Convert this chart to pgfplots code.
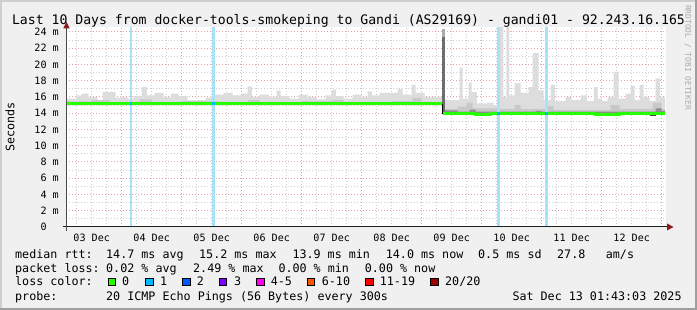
\documentclass[border=0pt]{standalone}
\usepackage{pgfplots}
\pgfplotsset{compat=1.18}
\usepackage{pgfplotstable}
\usepgfplotslibrary{fillbetween}
\usepackage{fontspec}
\setmainfont{DejaVu Sans Mono}
\definecolor{bgc}{HTML}{F0F0F0}
\definecolor{shadea}{HTML}{CFCFCF}
\definecolor{shadeb}{HTML}{9E9E9E}
\definecolor{mgridc}{HTML}{E8A2A2}
\definecolor{gridc}{HTML}{CDCDCD}
\definecolor{axisc}{HTML}{202020}
\definecolor{arrowc}{HTML}{8B1A1A}
\definecolor{smokeA}{HTML}{DDDDDD}
\definecolor{smokeB}{HTML}{C8C8C8}
\definecolor{smokeC}{HTML}{8E8E8E}
\definecolor{spikeD}{HTML}{6E6E6E}
\definecolor{spikeL}{HTML}{ABABAB}
\definecolor{lossbar}{HTML}{A8E2F8}
\definecolor{lc0}{HTML}{26FF00}
\definecolor{lc1}{HTML}{00B8FF}
\definecolor{lc2}{HTML}{0059FF}
\definecolor{lc3}{HTML}{7E00FF}
\definecolor{lc4}{HTML}{FF00EA}
\definecolor{lc5}{HTML}{FF5500}
\definecolor{lc6}{HTML}{FF0000}
\definecolor{lc7}{HTML}{A10000}
\definecolor{wmc}{HTML}{ABABAB}
\pagecolor{bgc}
\newcommand\titlefont{\fontsize{13.15}{15}\selectfont}
\newcommand\legfont{\fontsize{11.7}{14}\selectfont}
\newcommand\ticfont{\fontsize{10.1}{12}\selectfont}
\newcommand\wmfont{\fontsize{7.9}{9}\selectfont}

% days since 03 Dec 00:00
\pgfplotstableread{
t up
0.0715 15.8
0.25 16.2
0.33 16.4
0.45 16.0
0.6 15.6
0.68 16.6
0.9 15.9
1.0 16.0
1.1 15.8
1.2 16.1
1.33 17.2
1.42 16.2
1.55 16.5
1.7 16.0
1.82 16.4
1.95 16.1
2.1 15.6
2.4 15.9
2.55 16.3
2.7 16.5
2.85 16.2
3.0 16.4
3.1 17.3
3.17 16.0
3.3 16.3
3.45 16.0
3.58 16.8
3.65 16.1
3.8 15.8
3.95 16.3
4.1 16.0
4.25 15.7
4.4 16.2
4.5 16.9
4.57 16.1
4.7 15.8
4.85 16.3
5.0 16.0
5.1 16.7
5.17 16.2
5.3 16.5
5.6 17.0
5.68 16.3
5.83 17.5
5.9 16.5
6.05 16.0
6.35 15.6
6.63 19.6
6.68 15.8
6.78 17.8
6.83 16.6
6.92 15.2
7.1 15.3
7.2 15.0
7.3 24.6
7.36 16.0
7.41 24.6
7.46 16.2
7.55 17.7
7.65 16.5
7.78 17.2
7.85 21.4
7.95 16.8
8.03 15.6
8.15 17.5
8.22 15.5
8.4 16.0
8.5 15.6
8.65 16.2
8.75 15.5
8.87 17.2
8.93 15.8
9.0 15.5
9.1 16.0
9.2 19.1
9.28 15.8
9.4 16.4
9.48 17.4
9.55 15.6
9.63 17.5
9.7 16.0
9.8 15.5
9.9 18.3
9.97 16.0
10.055 16.0
}\smokeup

\pgfplotstableread{
t lo
0.0715 15.0
6.35 13.8
10.055 13.8
}\smokelo

\pgfplotstableread{
t up
0.0715 15.45
0.5 15.6
0.8 15.4
1.3 15.7
1.5 15.4
2.0 15.5
2.6 15.4
3.1 15.6
3.3 15.4
4.0 15.5
4.5 15.6
4.7 15.4
5.5 15.5
5.85 15.9
6.0 15.4
6.35 14.5
6.6 14.8
6.75 15.3
6.85 14.6
7.3 14.5
7.55 15.0
7.65 14.5
8.1 14.9
8.2 14.4
9.15 15.0
9.3 14.5
9.85 15.3
10.0 14.5
10.055 14.5
}\smokemid

\pgfplotstableread{
t up
6.39 14.35
6.6 14.2
6.8 14.45
6.9 14.2
7.9 14.3
8.0 14.2
9.9 14.6
10.0 14.3
10.055 14.3
}\smokedark

\pgfplotstableread{
t lo
6.39 13.82
10.055 13.82
}\smokedarklo

\pgfplotstableread{
t med
6.36 14.0
6.89 13.9
7.14 14.0
8.89 13.9
9.3 14.0
9.81 13.92
10.055 13.92
}\medright

\begin{document}%
\begin{tikzpicture}[x=1pt,y=1pt]
\path (0,0) rectangle (697,310);

\begin{axis}[
  at={(66pt,83pt)}, anchor=south west,
  scale only axis, width=600pt, height=200pt,
  xmin=0.0715, xmax=10.0715, ymin=0, ymax=24.615,
  axis background/.style={fill=white},
  axis line style={draw=none},
  major tick length=0pt, minor tick length=0pt,
  xtick={1,2,...,10}, xticklabels={},
  minor xtick={0.25,0.5,...,10},
  ytick={0,2,...,24},
  yticklabels={0\phantom{\ m},2 m,4 m,6 m,8 m,10 m,12 m,14 m,16 m,18 m,20 m,22 m,24 m},
  minor ytick={1,3,...,23},
  grid=both,
  major grid style={color=mgridc, dash pattern=on 1pt off 2pt, line width=1pt},
  minor grid style={color=gridc, dash pattern=on 1pt off 2pt, line width=1pt},
  extra x ticks={0.5,1.5,...,9.5},
  extra x tick labels={03 Dec,04 Dec,05 Dec,06 Dec,07 Dec,08 Dec,09 Dec,10 Dec,11 Dec,12 Dec},
  extra x tick style={grid=none, major tick length=0pt},
  xticklabel style={font=\ticfont, anchor=north, inner sep=0pt, yshift=-6.5pt},
  yticklabel style={font=\ticfont, anchor=east, inner sep=0pt, xshift=-7pt},
]
% smoke
\addplot[draw=none, name path=up, const plot] table[x=t,y=up] {\smokeup};
\addplot[draw=none, name path=lo, const plot] table[x=t,y=lo] {\smokelo};
\addplot[smokeA] fill between[of=up and lo];
\addplot[draw=none, name path=mid, const plot] table[x=t,y=up] {\smokemid};
\addplot[smokeB] fill between[of=mid and lo];
\addplot[draw=none, name path=dk, const plot] table[x=t,y=up] {\smokedark};
\addplot[draw=none, name path=dklo, const plot] table[x=t,y=lo] {\smokedarklo};
\addplot[smokeC] fill between[of=dk and dklo];
% dark spike at the level change
\addplot[fill=spikeD, draw=none] coordinates {(6.33,14.0) (6.33,23.4) (6.385,23.4) (6.385,14.0)} -- cycle;
\addplot[fill=spikeL, draw=none] coordinates {(6.33,23.4) (6.33,24.4) (6.385,24.4) (6.385,23.4)} -- cycle;
% loss bars (1 of 20 lost)
\addplot[fill=lossbar, draw=none] coordinates {(1.133,0) (1.133,24.615) (1.177,24.615) (1.177,0)} -- cycle;
\addplot[fill=lossbar, draw=none] coordinates {(2.50,0) (2.50,24.615) (2.55,24.615) (2.55,0)} -- cycle;
\addplot[fill=lossbar, draw=none] coordinates {(7.25,0) (7.25,24.615) (7.30,24.615) (7.30,0)} -- cycle;
\addplot[fill=lossbar, draw=none] coordinates {(8.055,0) (8.055,24.615) (8.097,24.615) (8.097,0)} -- cycle;
% min pings below the median (dark)
\addplot[color=black!75, line width=1pt] coordinates {(6.39,13.82) (6.62,13.82)};
\addplot[color=black!75, line width=1pt] coordinates {(6.88,13.74) (7.1,13.74)};
\addplot[color=black!75, line width=1pt] coordinates {(9.8,13.76) (9.9,13.76)};
% median
\addplot[color=lc0, line width=3pt] coordinates {(0.0715,15.15) (6.345,15.15)};
\addplot[color=black, line width=1pt] coordinates {(6.35,15.15) (6.35,13.9)};
\addplot[color=lc0, line width=3pt, const plot] table[x=t,y=med] {\medright};
\addplot[color=lc1, line width=3pt] coordinates {(1.133,15.15) (1.177,15.15)};
\addplot[color=lc1, line width=3pt] coordinates {(2.50,15.15) (2.55,15.15)};
\addplot[color=lc1, line width=3pt] coordinates {(7.25,14.0) (7.30,14.0)};
\addplot[color=lc1, line width=3pt] coordinates {(8.055,14.0) (8.097,14.0)};
\end{axis}

% frame bevel
\fill[shadea] (0,308) rectangle (697,310);
\fill[shadea] (0,0) rectangle (2,310);
\fill[shadeb] (0,0) rectangle (697,2);
\fill[shadeb] (695,0) rectangle (697,310);

% axes with arrows
\draw[axisc, line width=1pt] (63,83) -- (668,83);
\fill[arrowc] (667,86.5) -- (673.5,83) -- (667,79.5) -- cycle;
\draw[axisc!80, line width=1pt] (66.5,79) -- (66.5,283);
\fill[arrowc] (63.2,281.5) -- (66.5,288) -- (69.8,281.5) -- cycle;

% title
\node[anchor=base, inner sep=0pt, font=\titlefont] at (348.5,285) {Last 10 Days from docker-tools-smokeping to Gandi (AS29169) - gandi01 - 92.243.16.165};
% y label
\node[rotate=90, anchor=center, inner sep=0pt, font=\legfont] at (10,183) {Seconds};
% watermark
\node[rotate=-90, anchor=center, inner sep=0pt, font=\wmfont, text=wmc] at (688,252.5) {RRDTOOL / TOBI OETIKER};

% legend
\begin{scope}[every node/.style={anchor=base west, inner sep=0pt, font=\legfont}]
\node at (15,51.5) {median rtt:};
\node at (106,51.5) {14.7 ms avg};
\node at (199,51.5) {15.2 ms max};
\node at (292.3,51.5) {13.9 ms min};
\node at (385.7,51.5) {14.0 ms now};
\node at (478,51.5) {0.5 ms sd};
\node at (557,51.5) {27.8};
\node at (605.7,51.5) {am/s};
\node at (15,37.5) {packet loss:};
\node at (106,37.5) {0.02 \% avg};
\node at (193,37.5) {2.49 \% max};
\node at (278.3,37.5) {0.00 \% min};
\node at (364.7,37.5) {0.00 \% now};
\node at (15,24) {loss color:};
\node at (122,24) {0};
\node at (160,24) {1};
\node at (196.7,24) {2};
\node at (234,24) {3};
\node at (270.7,24) {4-5};
\node at (321.7,24) {6-10};
\node at (379.7,24) {11-19};
\node at (445,24) {20/20};
\node at (15,9.8) {probe:};
\node at (106,9.8) {20 ICMP Echo Pings (56 Bytes) every 300s};
\node at (512.3,9.8) {Sat Dec 13 01:43:03 2025};
\end{scope}
\foreach \bx/\cc in {108.3/lc0,145.7/lc1,182.7/lc2,219.3/lc3,256.7/lc4,307.3/lc5,365.7/lc6,430.7/lc7}{
  \draw[fill=\cc, draw=black, line width=0.8pt] (\bx,24.6) rectangle ++(7.4,7.4);
}
\pgfresetboundingbox
\useasboundingbox (0,0) rectangle (697,310);
\end{tikzpicture}%
\end{document}
